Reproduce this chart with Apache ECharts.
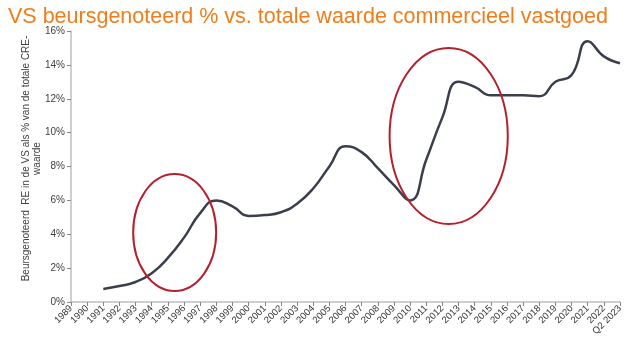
<!DOCTYPE html>
<html>
<head>
<meta charset="utf-8">
<script src="https://cdn.jsdelivr.net/npm/echarts@6/dist/echarts.min.js"></script>
<style>
  html, body { margin: 0; padding: 0; background: #fff; }
  #cnv { width: 640px; height: 351px; }
</style>
</head>
<body>
<div id="cnv"></div>
<script>
var years = ["1989", "1990", "1991", "1992", "1993", "1994", "1995", "1996", "1997", "1998",
  "1999", "2000", "2001", "2002", "2003", "2004", "2005", "2006", "2007", "2008", "2009",
  "2010", "2011", "2012", "2013", "2014", "2015", "2016", "2017", "2018", "2019", "2020",
  "2021", "2022", "Q2 2023"];
// aandeel beursgenoteerd RE in % van totale CRE-waarde
var share = [null, null, 0.77, 0.94, 1.18, 1.7, 2.6, 3.8, 5.25, 6.0,
  5.65, 5.08, 5.13, 5.3, 5.8, 6.7, 8.0, 9.2, 8.85, 7.9, 6.9,
  6.0, 8.4, 10.9, 13.0, 12.7, 12.2, 12.2, 12.2, 12.15, 13.0, 13.4,
  15.4, 14.5, 14.1];
var yTicks = [0, 2, 4, 6, 8, 10, 12, 14, 16];
// omcirkelde periodes: middelpunt (jaarindex, %) en halve assen (jaren, %)
var circles = [
  { cx: 6.42, cy: 4.1, rx: 2.57, ry: 3.45 },
  { cx: 23.39, cy: 9.8, rx: 3.66, ry: 5.2 }
];

var main = document.getElementById("cnv");
var myechart = echarts.init(main);
var option = {
  animation: false,
  title: {
    text: "VS beursgenoteerd % vs. totale waarde commercieel vastgoed",
    left: 3, top: 1,
    textStyle: { color: "#f07d1a", fontSize: 21.5, fontWeight: "normal", fontFamily: "Liberation Sans" }
  },
  grid: { left: 71, right: 20, top: 31, bottom: 49 },
  xAxis: {
    type: "category",
    data: years,
    boundaryGap: false,
    axisLine: { lineStyle: { color: "#bfbfbf", width: 1.5 } },
    axisTick: { alignWithLabel: true, length: 4, lineStyle: { color: "#888" } },
    axisLabel: { rotate: 45, interval: 0, fontSize: 9.5, color: "#333", fontFamily: "Liberation Sans", margin: 5 }
  },
  yAxis: {
    type: "value",
    min: yTicks[0], max: yTicks[yTicks.length - 1], interval: 2,
    name: "Beursgenoteerd  RE in de VS als % van de totale CRE-\nwaarde",
    nameLocation: "middle",
    nameGap: 28,
    nameMoveOverlap: false,
    nameTextStyle: { fontSize: 10, color: "#404040", fontFamily: "Liberation Sans", lineHeight: 11, padding: [0, 0, 0, 16] },
    splitLine: { show: false },
    axisLine: { show: true, lineStyle: { color: "#bfbfbf", width: 1.5 } },
    axisTick: { show: true, length: 4, lineStyle: { color: "#888" } },
    axisLabel: { formatter: "{value}%", fontSize: 10, color: "#404040", fontFamily: "Liberation Sans", margin: 6 }
  },
  series: [{
    type: "line",
    data: share,
    smooth: 0.5,
    showSymbol: false,
    lineStyle: { color: "#3b3f4c", width: 2.5 }
  }]
};
myechart.setOption(option);

// ellipsen via de assen naar pixels omrekenen
var p0 = myechart.convertToPixel({ gridIndex: 0 }, [0, 0]);
var p1 = myechart.convertToPixel({ gridIndex: 0 }, [1, 1]);
var sx = p1[0] - p0[0], sy = p0[1] - p1[1];
myechart.setOption({
  graphic: circles.map(function (c) {
    return {
      type: "ellipse",
      shape: { cx: p0[0] + c.cx * sx, cy: p0[1] - c.cy * sy, rx: c.rx * sx, ry: c.ry * sy },
      style: { fill: "none", stroke: "#b5202e", lineWidth: 2 },
      z: 10
    };
  })
});
</script>
</body>
</html>
